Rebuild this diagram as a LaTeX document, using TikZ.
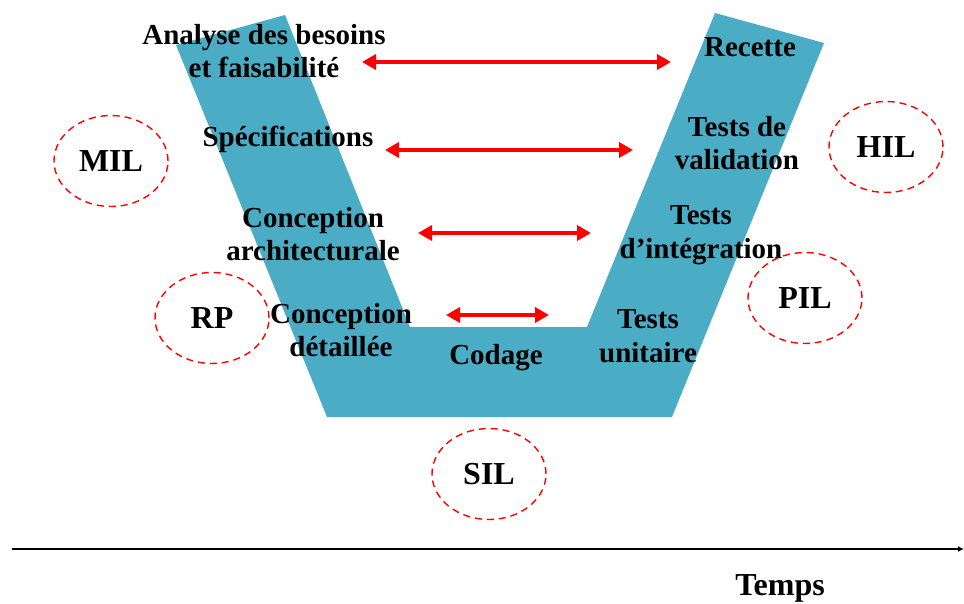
\documentclass[tikz,border=0pt]{standalone}
\usepackage{fontspec}
\setmainfont{Liberation Serif}
\usepackage{tikz}
\usepackage{xcolor}
\definecolor{vblue}{RGB}{75,172,198}
\usetikzlibrary{shapes.geometric, arrows.meta}
\tikzset{
    phase-label/.style = {align=center, font=\fontsize{29}{33.5}\selectfont\bfseries, inner sep=0pt},
    sim-ellipse/.style = {draw=red, dashed, dash pattern=on 7pt off 5pt, line width=1.4pt, ellipse, minimum width=114pt, minimum height=91pt, inner sep=0pt, font=\fontsize{32}{34}\selectfont\bfseries},
    link-arrow/.style = {red, line width=4pt, {Triangle[length=14pt,width=15pt]}-{Triangle[length=14pt,width=15pt]}},
}

\begin{document}
\begin{tikzpicture}[x=1pt, y=-1pt]
\useasboundingbox (0,0) rectangle (964,604);
% the V
\fill[vblue] (176,45) -- (285,15) -- (410,327) -- (587,327) -- (715,13) -- (824,43) -- (672,417) -- (327,417) -- cycle;

% phases
\node[phase-label] (analyse) at (264,51) {Analyse des besoins\\et faisabilité};
\node[phase-label] (spec) at (288,139) {Spécifications};
\node[phase-label] (archi) at (313,234) {Conception\\architecturale};
\node[phase-label] (detail) at (341,330) {Conception\\détaillée};
\node[phase-label] (codage) at (496,358) {Codage};
\node[phase-label] (unit) at (648,336) {Tests\\unitaire};
\node[phase-label] (integ) at (701,235) {Tests\\d'intégration};
\node[phase-label] (valid) at (737,143) {Tests de\\validation};
\node[phase-label] (recette) at (750,47) {Recette};

% links between levels
\coordinate (a1) at (362,62);  \coordinate (b1) at (671,62);
\coordinate (a2) at (385,150); \coordinate (b2) at (633,150);
\coordinate (a3) at (418,233); \coordinate (b3) at (591,233);
\coordinate (a4) at (446,315); \coordinate (b4) at (549,315);
\draw[link-arrow] (a1) -- (b1);
\draw[link-arrow] (a2) -- (b2);
\draw[link-arrow] (a3) -- (b3);
\draw[link-arrow] (a4) -- (b4);

% simulation levels
\node[sim-ellipse] (mil) at (111,161) {MIL};
\node[sim-ellipse] (rp) at (212,318) {RP};
\node[sim-ellipse] (sil) at (489,474) {SIL};
\node[sim-ellipse] (pil) at (805,298) {PIL};
\node[sim-ellipse] (hil) at (886,147) {HIL};

% time axis
\coordinate (t0) at (12,549);
\coordinate (t1) at (964,549);
\draw[line width=1.8pt, -{Latex[length=6pt,width=6pt]}] (t0) -- (t1);
\node[phase-label, font=\fontsize{32}{34}\selectfont\bfseries] (temps) at (780,588) {Temps};
\end{tikzpicture}
\end{document}
